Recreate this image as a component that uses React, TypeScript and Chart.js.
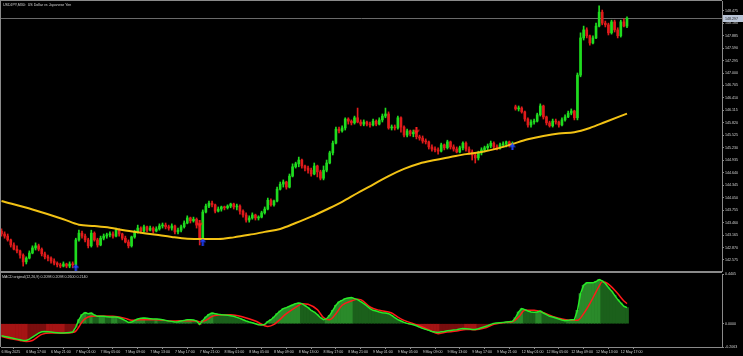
import React, { useEffect, useRef } from "react";
import { Chart, registerables } from "chart.js";

Chart.register(...registerables);

const TITLE = "USDJPY,M30:  US Dollar vs Japanese Yen";
const MACD_TITLE = "MACD original(12,26,9) 0.2098 0.2098 0.2600 0.2140";

const TIME_LABELS = [
  "6 May 2025", "6 May 17:00", "6 May 21:00", "7 May 01:00", "7 May 05:00", "7 May 09:00",
  "7 May 13:00", "7 May 17:00", "7 May 21:00", "8 May 01:00", "8 May 05:00", "8 May 09:00",
  "8 May 13:00", "8 May 17:00", "8 May 21:00", "9 May 01:00", "9 May 05:00", "9 May 09:00",
  "9 May 13:00", "9 May 17:00", "9 May 21:00", "12 May 01:00", "12 May 05:00", "12 May 09:00",
  "12 May 13:00", "12 May 17:00",
];
const BARS_PER_LABEL = 8;

const PRICE_TICKS = [
  148.475, 148.18, 147.885, 147.59, 147.295, 147.0, 146.705, 146.41, 146.115, 145.82, 145.525,
  145.23, 144.935, 144.64, 144.345, 144.05, 143.755, 143.46, 143.165, 142.87, 142.575,
];
const MACD_TICKS = [0.4405, 0, -0.2063];

const OPEN = [
  143.26,143.19,143.14,143.05,142.93,142.83,142.79,142.69,142.53,142.62,
  142.74,142.86,142.91,142.83,142.72,142.65,142.62,142.55,142.50,142.46,
  142.43,142.48,142.43,142.48,142.46,143.05,143.21,143.14,143.05,142.91,
  143.21,143.05,142.93,143.09,143.14,143.17,143.19,143.14,143.28,143.19,
  143.09,143.00,142.91,143.12,143.24,143.33,143.26,143.36,143.28,143.33,
  143.26,143.31,143.38,143.40,143.36,143.33,143.38,143.24,143.28,143.36,
  143.45,143.57,143.50,143.54,143.40,143.09,143.71,143.85,143.92,143.88,
  143.73,143.78,143.83,143.81,143.85,143.90,143.83,143.85,143.73,143.64,
  143.52,143.57,143.64,143.57,143.59,143.69,143.78,143.99,143.88,143.97,
  144.25,144.37,144.42,144.30,144.56,144.78,144.85,144.94,144.80,144.75,
  144.70,144.61,144.80,144.66,144.51,144.70,144.87,145.11,145.34,145.67,
  145.63,145.70,145.91,145.86,145.82,145.94,145.84,145.79,145.84,145.79,
  145.77,145.86,145.79,145.89,145.98,146.03,145.70,145.72,145.70,145.94,
  145.72,145.53,145.63,145.56,145.60,145.49,145.46,145.39,145.37,145.25,
  145.20,145.18,145.15,145.30,145.23,145.37,145.25,145.20,145.13,145.23,
  145.34,145.20,145.13,145.06,144.99,145.11,145.18,145.23,145.27,145.34,
  145.25,145.23,145.30,145.32,145.37,145.30,146.20,146.15,146.17,146.08,
  145.91,145.77,145.84,145.86,146.01,146.22,145.96,145.82,145.75,145.86,
  145.84,145.77,145.89,145.96,146.05,146.10,145.94,146.95,147.83,148.02,
  147.88,147.71,147.83,148.11,148.44,148.18,148.14,147.95,148.21,148.02,
  147.88,148.21,148.11,
];
const HIGH = [
  143.31,143.24,143.19,143.07,142.98,142.91,142.81,142.72,142.65,142.79,
  142.91,142.98,142.95,142.86,142.76,142.69,142.65,142.60,142.53,142.50,
  142.53,142.50,142.53,142.53,143.09,143.28,143.26,143.19,143.09,143.28,
  143.24,143.09,143.14,143.19,143.21,143.24,143.24,143.33,143.31,143.21,
  143.14,143.05,143.14,143.28,143.40,143.36,143.40,143.38,143.38,143.36,
  143.36,143.43,143.45,143.45,143.40,143.43,143.40,143.33,143.40,143.50,
  143.62,143.59,143.59,143.57,143.43,143.76,143.90,143.97,143.97,143.90,
  143.83,143.85,143.85,143.88,143.92,143.92,143.90,143.88,143.76,143.69,
  143.62,143.69,143.66,143.62,143.73,143.83,144.04,144.02,143.99,144.30,
  144.42,144.47,144.44,144.61,144.85,144.89,145.01,144.96,144.82,144.80,
  144.75,144.87,144.82,144.70,144.80,144.94,145.15,145.39,145.72,145.72,
  145.75,145.94,145.94,145.89,145.98,146.17,145.89,145.89,145.86,145.84,
  145.91,145.89,145.94,146.03,146.17,146.08,145.77,145.77,145.98,145.96,
  145.75,145.67,145.65,145.65,145.63,145.53,145.51,145.44,145.39,145.30,
  145.25,145.23,145.34,145.32,145.41,145.39,145.30,145.25,145.27,145.37,
  145.37,145.25,145.18,145.11,145.15,145.23,145.27,145.32,145.39,145.37,
  145.30,145.34,145.37,145.39,145.39,145.37,146.24,146.22,146.20,146.10,
  145.94,145.89,145.91,146.05,146.27,146.24,145.98,145.86,145.91,145.91,
  145.86,145.94,146.01,146.10,146.15,146.12,147.00,147.95,148.11,148.07,
  147.90,147.88,148.18,148.59,148.49,148.23,148.18,148.25,148.25,148.07,
  148.25,148.28,148.33,
];
const LOW = [
  143.14,143.09,143.02,142.88,142.81,142.74,142.62,142.43,142.48,142.60,
  142.72,142.81,142.79,142.67,142.60,142.55,142.50,142.46,142.41,142.39,
  142.41,142.39,142.39,142.39,142.39,143.02,143.09,143.00,142.86,142.88,
  143.02,142.88,142.91,143.05,143.09,143.12,143.09,143.12,143.14,143.05,
  142.98,142.86,142.88,143.09,143.21,143.21,143.24,143.24,143.26,143.21,
  143.24,143.28,143.33,143.31,143.28,143.28,143.19,143.19,143.24,143.33,
  143.43,143.45,143.47,143.33,142.93,143.05,143.69,143.81,143.83,143.69,
  143.71,143.73,143.76,143.78,143.81,143.78,143.76,143.66,143.59,143.47,
  143.47,143.54,143.52,143.52,143.57,143.66,143.76,143.85,143.85,143.95,
  144.23,144.30,144.25,144.28,144.54,144.75,144.78,144.75,144.68,144.63,
  144.56,144.59,144.54,144.47,144.47,144.66,144.85,145.06,145.32,145.58,
  145.60,145.65,145.79,145.77,145.79,145.82,145.75,145.75,145.75,145.72,
  145.75,145.75,145.77,145.84,145.94,145.67,145.65,145.65,145.67,145.60,
  145.49,145.49,145.51,145.49,145.44,145.41,145.34,145.32,145.20,145.15,
  145.13,145.08,145.13,145.18,145.20,145.20,145.15,145.11,145.11,145.18,
  145.15,145.08,144.94,144.87,144.94,145.06,145.13,145.18,145.23,145.20,
  145.18,145.20,145.25,145.25,145.25,145.25,146.12,146.10,146.05,145.86,
  145.72,145.72,145.79,145.84,145.98,145.91,145.77,145.72,145.72,145.79,
  145.72,145.75,145.86,145.94,146.01,145.89,145.89,146.91,147.78,147.83,
  147.66,147.69,147.81,148.09,148.14,148.09,147.90,147.92,147.97,147.83,
  147.85,148.09,148.07,
];
const CLOSE = [
  143.19,143.14,143.05,142.93,142.83,142.79,142.69,142.53,142.62,142.74,
  142.86,142.91,142.83,142.72,142.65,142.62,142.55,142.50,142.46,142.43,
  142.48,142.43,142.48,142.46,143.05,143.21,143.14,143.05,142.91,143.21,
  143.05,142.93,143.09,143.14,143.17,143.19,143.14,143.28,143.19,143.09,
  143.00,142.91,143.12,143.24,143.33,143.26,143.36,143.28,143.33,143.26,
  143.31,143.38,143.40,143.36,143.33,143.38,143.24,143.28,143.36,143.45,
  143.57,143.50,143.54,143.40,143.09,143.71,143.85,143.92,143.88,143.73,
  143.78,143.83,143.81,143.85,143.90,143.83,143.85,143.73,143.64,143.52,
  143.57,143.64,143.57,143.59,143.69,143.78,143.99,143.88,143.97,144.25,
  144.37,144.42,144.30,144.56,144.78,144.85,144.94,144.80,144.75,144.70,
  144.61,144.80,144.66,144.51,144.70,144.87,145.11,145.34,145.67,145.63,
  145.70,145.91,145.86,145.82,145.94,145.84,145.79,145.84,145.79,145.77,
  145.86,145.79,145.89,145.98,146.03,145.70,145.72,145.70,145.94,145.72,
  145.53,145.63,145.56,145.60,145.49,145.46,145.39,145.37,145.25,145.20,
  145.18,145.15,145.30,145.23,145.37,145.25,145.20,145.13,145.23,145.34,
  145.20,145.13,145.06,144.99,145.11,145.18,145.23,145.27,145.34,145.25,
  145.23,145.30,145.32,145.37,145.30,145.32,146.15,146.17,146.08,145.91,
  145.77,145.84,145.86,146.01,146.22,145.96,145.82,145.75,145.86,145.84,
  145.77,145.89,145.96,146.05,146.10,145.94,146.95,147.83,148.02,147.88,
  147.71,147.83,148.11,148.44,148.18,148.14,147.95,148.21,148.02,147.88,
  148.21,148.11,148.297,
];

const MA_INDEX = [0,10,20,25,30,35,40,50,55,60,65,70,75,80,85,90,95,100,105,110,115,120,125,130,135,140,145,150,155,160,165,170,175,180,185,190,195,202];
const MA_VALUE = [143.97,143.77,143.54,143.41,143.38,143.34,143.27,143.17,143.12,143.08,143.07,143.07,143.11,143.17,143.24,143.31,143.45,143.60,143.77,143.95,144.16,144.36,144.56,144.73,144.86,144.94,145.01,145.08,145.13,145.21,145.32,145.43,145.51,145.57,145.60,145.70,145.84,146.04];

const MACD_MAIN = [
  -0.1068,-0.1127,-0.1186,-0.1246,-0.1305,-0.1364,-0.1424,-0.1483,-0.1483,-0.1364,
  -0.1186,-0.1008,-0.0830,-0.0712,-0.0682,-0.0712,-0.0742,-0.0771,-0.0801,-0.0830,
  -0.0830,-0.0801,-0.0771,-0.0742,-0.0297,0.0356,0.0801,0.0979,0.0890,0.0949,
  0.0771,0.0653,0.0653,0.0653,0.0623,0.0593,0.0593,0.0593,0.0534,0.0415,
  0.0267,0.0119,0.0148,0.0297,0.0415,0.0475,0.0504,0.0475,0.0445,0.0415,
  0.0415,0.0386,0.0356,0.0297,0.0237,0.0208,0.0148,0.0178,0.0237,0.0297,
  0.0356,0.0356,0.0326,0.0237,-0.0059,0.0297,0.0593,0.0830,0.0949,0.0890,
  0.0830,0.0801,0.0771,0.0742,0.0712,0.0653,0.0564,0.0475,0.0356,0.0237,
  0.0148,0.0089,0.0000,-0.0089,-0.0119,-0.0059,0.0178,0.0356,0.0593,0.0890,
  0.1127,0.1335,0.1424,0.1542,0.1661,0.1780,0.1839,0.1780,0.1602,0.1424,
  0.1186,0.1038,0.0801,0.0534,0.0356,0.0445,0.0742,0.1186,0.1631,0.1928,
  0.2076,0.2225,0.2284,0.2313,0.2225,0.2136,0.1958,0.1780,0.1572,0.1335,
  0.1186,0.1127,0.1038,0.0979,0.0949,0.0890,0.0742,0.0534,0.0356,0.0237,
  0.0119,0.0030,-0.0030,-0.0089,-0.0178,-0.0297,-0.0415,-0.0504,-0.0593,-0.0682,
  -0.0742,-0.0771,-0.0712,-0.0682,-0.0623,-0.0593,-0.0564,-0.0534,-0.0475,-0.0415,
  -0.0445,-0.0475,-0.0504,-0.0504,-0.0445,-0.0356,-0.0267,-0.0178,-0.0059,0.0030,
  0.0059,0.0089,0.0119,0.0148,0.0178,0.0208,0.0534,0.1038,0.1335,0.1246,
  0.1127,0.1038,0.1008,0.1038,0.1127,0.0949,0.0801,0.0653,0.0593,0.0504,
  0.0415,0.0326,0.0267,0.0297,0.0356,0.0356,0.1186,0.2669,0.3411,0.3619,
  0.3619,0.3619,0.3737,0.3915,0.3796,0.3559,0.3203,0.2907,0.2521,0.2136,
  0.1839,0.1542,0.1424,
];

const SIGNAL_INDEX = [0,3,6,8,10,13,16,20,23,24,26,27,29,32,36,40,42,45,50,55,60,63,64,66,68,70,74,78,82,85,86,88,92,96,97,99,102,104,106,108,110,113,115,116,119,122,126,128,130,133,136,138,141,143,147,150,153,156,159,163,165,167,169,172,175,178,181,184,186,188,190,192,193,194,195,197,199,201,202];
const SIGNAL_VALUE = [-0.1127,-0.1335,-0.1483,-0.1572,-0.1483,-0.0949,-0.0830,-0.0830,-0.0771,-0.0653,0.0148,0.0445,0.0653,0.0682,0.0653,0.0475,0.0297,0.0356,0.0356,0.0237,0.0267,0.0237,0.0148,0.0297,0.0653,0.0771,0.0801,0.0593,0.0237,-0.0178,-0.0237,-0.0059,0.0890,0.1631,0.1780,0.1720,0.1246,0.0534,0.0356,0.0890,0.1631,0.2017,0.2165,0.2136,0.1483,0.1186,0.0949,0.0593,0.0297,0.0000,-0.0297,-0.0534,-0.0890,-0.0771,-0.0653,-0.0504,-0.0534,-0.0386,-0.0059,0.0119,0.0178,0.0593,0.1186,0.1186,0.0979,0.0653,0.0415,0.0297,0.0297,0.0890,0.1780,0.2818,0.3322,0.3708,0.3678,0.3263,0.2669,0.2017,0.1780];

const BUY_INDEX = [24, 65, 165];
const BUY_PRICE = [142.39, 143.0, 145.25];
const SELL_INDEX = [64, 134];
const SELL_PRICE = [143.45, 145.65];

const X_MIN = -0.16;
const X_MAX = 232.68;
const PRICE_MIN = 142.314;
const PRICE_MAX = 148.704;
const BULL = "#1fdc1f";
const BEAR = "#e01b1b";
const FRAME = "#8a8a8a";
const TEXT = "#d4d4d4";
const FAMILY = "'Liberation Sans', Arial, sans-serif";
const FONT_SIZE = 3.6;

function makeArrow(color: string, up: boolean) {
  const c = document.createElement("canvas");
  c.width = 7;
  c.height = 7;
  const g = c.getContext("2d")!;
  g.fillStyle = color;
  g.beginPath();
  if (up) {
    g.moveTo(3.5, 0);
    g.lineTo(7, 3.5);
    g.lineTo(0, 3.5);
  } else {
    g.moveTo(3.5, 7);
    g.lineTo(7, 3.5);
    g.lineTo(0, 3.5);
  }
  g.closePath();
  g.fill();
  if (up) g.fillRect(2.5, 3.5, 2, 3.5);
  else g.fillRect(2.5, 0, 2, 3.5);
  return c;
}

function fixY(width: number) {
  return (s: any) => {
    s.width = width;
    s.paddingTop = 0;
    s.paddingBottom = 0;
  };
}

const mainOverlay = {
  id: "mainOverlay",
  beforeDatasetsDraw(chart: any) {
    const { ctx, chartArea } = chart;
    const last = CLOSE[CLOSE.length - 1];
    const y = Math.round(chart.scales.y.getPixelForValue(last)) + 0.5;
    ctx.save();
    ctx.strokeStyle = "#6a6a6a";
    ctx.lineWidth = 1;
    ctx.beginPath();
    ctx.moveTo(chartArea.left, y);
    ctx.lineTo(chartArea.right, y);
    ctx.stroke();
    ctx.restore();
  },
  afterDraw(chart: any) {
    const { ctx, chartArea } = chart;
    const { right, bottom } = chartArea;
    ctx.save();
    ctx.strokeStyle = FRAME;
    ctx.lineWidth = 1;
    ctx.beginPath();
    ctx.moveTo(0.5, 0);
    ctx.lineTo(0.5, bottom + 1);
    ctx.moveTo(0, 0.5);
    ctx.lineTo(right, 0.5);
    ctx.moveTo(0, bottom + 0.5);
    ctx.lineTo(right, bottom + 0.5);
    ctx.stroke();
    const last = CLOSE[CLOSE.length - 1];
    const y = Math.round(chart.scales.y.getPixelForValue(last)) + 0.5;
    ctx.fillStyle = "#b9c4d6";
    ctx.fillRect(right + 1, y - 3.5, 20, 7);
    ctx.fillStyle = "#1a1a1a";
    ctx.font = `${FONT_SIZE}px ${FAMILY}`;
    ctx.textBaseline = "middle";
    ctx.textAlign = "left";
    ctx.fillText(last.toFixed(3), right + 3, y);
    ctx.fillStyle = TEXT;
    ctx.fillText(TITLE, 3, 5);
    ctx.restore();
  },
};

const macdOverlay = {
  id: "macdOverlay",
  afterDraw(chart: any) {
    const { ctx, chartArea } = chart;
    const { right, bottom } = chartArea;
    ctx.save();
    ctx.strokeStyle = FRAME;
    ctx.lineWidth = 1;
    ctx.beginPath();
    ctx.moveTo(0.5, 0);
    ctx.lineTo(0.5, bottom);
    ctx.moveTo(0, 0.5);
    ctx.lineTo(right, 0.5);
    ctx.stroke();
    ctx.fillStyle = TEXT;
    ctx.font = `${FONT_SIZE}px ${FAMILY}`;
    ctx.textBaseline = "middle";
    ctx.textAlign = "left";
    ctx.fillText(MACD_TITLE, 2, 5);
    ctx.restore();
  },
};

export default function App() {
  const mainRef = useRef<HTMLCanvasElement>(null);
  const macdRef = useRef<HTMLCanvasElement>(null);

  useEffect(() => {
    document.body.style.margin = "0";
    document.body.style.background = "#000";
    const upArrow = makeArrow("#2040ff", true);
    const downArrow = makeArrow("#ff2020", false);

    const candleColors = CLOSE.map((c, i) => (c >= OPEN[i] ? BULL : BEAR));
    const histColors = MACD_MAIN.map((v, i) => {
      const prev = i > 0 ? MACD_MAIN[i - 1] : v;
      if (v >= 0) return v >= prev ? "#2a8a2a" : "#1b601b";
      return v <= prev ? "#a51414" : "#7a0e0e";
    });

    const arrowOpts = { pointRadius: 0.5, pointBorderWidth: 0, pointHoverRadius: 0, pointHitRadius: 0 };

    const main = new Chart(mainRef.current!, {
      type: "bar",
      data: {
        datasets: [
          { type: "scatter", data: BUY_INDEX.map((x, k) => ({ x, y: BUY_PRICE[k] })), pointStyle: upArrow as any, ...arrowOpts, order: -2 } as any,
          { type: "scatter", data: SELL_INDEX.map((x, k) => ({ x, y: SELL_PRICE[k] })), pointStyle: downArrow as any, ...arrowOpts, order: -1 } as any,
          {
            type: "line",
            data: MA_INDEX.map((x, k) => ({ x, y: MA_VALUE[k] })),
            borderColor: "#f2c214",
            borderWidth: 2,
            pointRadius: 0,
            pointBorderWidth: 0,
            pointHoverRadius: 0,
            cubicInterpolationMode: "monotone",
            order: 0,
          } as any,
          {
            type: "bar",
            data: OPEN.map((o, i) => ({ x: i, y: [o, CLOSE[i]] })),
            backgroundColor: candleColors,
            borderWidth: 0,
            barThickness: 2,
            minBarLength: 1,
            grouped: false,
            order: 1,
          } as any,
          {
            type: "bar",
            data: LOW.map((l, i) => ({ x: i, y: [l, HIGH[i]] })),
            backgroundColor: candleColors,
            borderWidth: 0,
            barThickness: 1,
            grouped: false,
            order: 2,
          } as any,
        ],
      },
      options: {
        animation: false,
        responsive: false,
        maintainAspectRatio: false,
        devicePixelRatio: 1,
        events: [],
        layout: { padding: { left: 1, top: 1, right: 0, bottom: 1 } },
        plugins: { legend: { display: false }, tooltip: { enabled: false } },
        scales: {
          x: { type: "linear", min: X_MIN, max: X_MAX, display: false, offset: false },
          y: {
            position: "right",
            min: PRICE_MIN,
            max: PRICE_MAX,
            bounds: "data",
            afterBuildTicks: (s: any) => {
              s.ticks = PRICE_TICKS.map((v) => ({ value: v }));
            },
            afterFit: fixY(21),
            ticks: {
              autoSkip: false,
              color: TEXT,
              padding: 1,
              font: { size: FONT_SIZE, family: FAMILY },
              callback: (v: any) => Number(v).toFixed(3),
            },
            grid: { drawOnChartArea: false, drawTicks: true, tickLength: 2, color: FRAME },
            border: { color: FRAME },
          },
        },
      } as any,
      plugins: [mainOverlay],
    });

    const macd = new Chart(macdRef.current!, {
      type: "bar",
      data: {
        datasets: [
          { type: "line", data: MACD_MAIN.map((v, i) => ({ x: i, y: v })), borderColor: "#27ec27", borderWidth: 1.5, pointRadius: 0, pointBorderWidth: 0, order: 0 } as any,
          {
            type: "line",
            data: SIGNAL_INDEX.map((x, k) => ({ x, y: SIGNAL_VALUE[k] })),
            borderColor: "#ff1a1a",
            borderWidth: 1.5,
            pointRadius: 0,
            pointBorderWidth: 0,
            cubicInterpolationMode: "monotone",
            order: 1,
          } as any,
          {
            type: "bar",
            data: MACD_MAIN.map((v, i) => ({ x: i, y: v })),
            backgroundColor: histColors,
            borderWidth: 0,
            barPercentage: 1,
            categoryPercentage: 1,
            grouped: false,
            order: 3,
          } as any,
        ],
      },
      options: {
        animation: false,
        responsive: false,
        maintainAspectRatio: false,
        devicePixelRatio: 1,
        events: [],
        layout: { padding: { left: 1, top: 2, right: 0, bottom: 0 } },
        plugins: { legend: { display: false }, tooltip: { enabled: false } },
        scales: {
          x: {
            type: "linear",
            min: X_MIN,
            max: X_MAX,
            offset: false,
            position: "bottom",
            afterBuildTicks: (s: any) => {
              s.ticks = TIME_LABELS.map((_, k) => ({ value: k * BARS_PER_LABEL }));
            },
            afterFit: (s: any) => {
              s.height = 9;
              s.paddingLeft = 0;
              s.paddingRight = 0;
            },
            ticks: {
              autoSkip: false,
              maxRotation: 0,
              minRotation: 0,
              align: "start",
              color: TEXT,
              padding: 1,
              font: { size: FONT_SIZE, family: FAMILY },
              callback: (_v: any, idx: number) => TIME_LABELS[idx],
            },
            grid: { drawOnChartArea: false, drawTicks: true, tickLength: 2, color: FRAME },
            border: { color: FRAME },
          },
          y: {
            position: "right",
            min: MACD_TICKS[2],
            max: MACD_TICKS[0],
            bounds: "data",
            afterBuildTicks: (s: any) => {
              s.ticks = MACD_TICKS.map((v) => ({ value: v }));
            },
            afterFit: fixY(21),
            ticks: {
              autoSkip: false,
              color: TEXT,
              padding: 1,
              font: { size: FONT_SIZE, family: FAMILY },
              callback: (v: any) => Number(v).toFixed(4),
            },
            grid: { drawOnChartArea: false, drawTicks: true, tickLength: 2, color: FRAME },
            border: { color: FRAME },
          },
        },
      } as any,
      plugins: [macdOverlay],
    });

    return () => {
      main.destroy();
      macd.destroy();
    };
  }, []);

  return (
    <div style={{ position: "relative", width: 743, height: 356, background: "#000", overflow: "hidden" }}>
      <canvas ref={mainRef} width={743} height={272} style={{ position: "absolute", left: 0, top: 0, display: "block" }} />
      <canvas ref={macdRef} width={743} height={84} style={{ position: "absolute", left: 0, top: 272, display: "block" }} />
    </div>
  );
}
